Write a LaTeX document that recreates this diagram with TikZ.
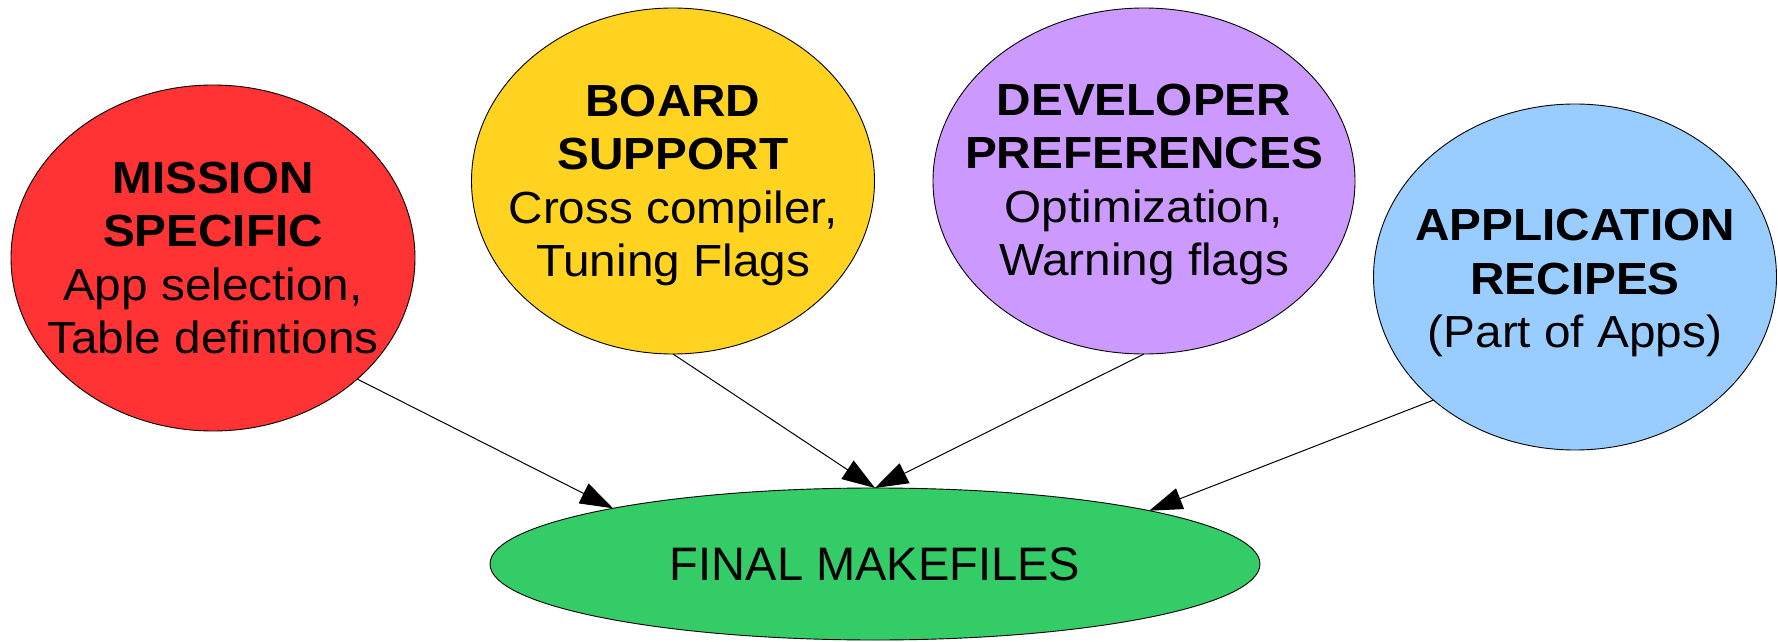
\documentclass[tikz,border=0pt]{standalone}
\usepackage{fontspec}
\setmainfont{Liberation Sans}
\newfontfamily\bubblefont{Liberation Sans}[FakeStretch=1.06]
\usetikzlibrary{shapes.geometric,arrows.meta}

\definecolor{missionred}{HTML}{FF3333}
\definecolor{boardyellow}{HTML}{FFD320}
\definecolor{devpurple}{HTML}{CC99FF}
\definecolor{appblue}{HTML}{99CCFF}
\definecolor{finalgreen}{HTML}{33CC66}

\tikzset{
  bubble/.style={ellipse, draw=black, line width=0.9pt, inner sep=0pt, outer sep=0pt},
  bubbletext/.style={anchor=north, align=center, inner sep=0pt,
    font=\bubblefont\fontsize{45}{53.5}\selectfont},
  feed/.style={line width=1pt, -{Triangle[length=33pt,width=22pt]}}
}

\begin{document}
\begin{tikzpicture}[x=1pt,y=1pt]
\useasboundingbox (0,0) rectangle (1778,641);

% source bubbles
\node[bubble, fill=missionred,  minimum width=404pt, minimum height=346pt] (mission) at (213,383) {};
\node[bubble, fill=boardyellow, minimum width=403pt, minimum height=346pt] (board)   at (673,460) {};
\node[bubble, fill=devpurple,   minimum width=422pt, minimum height=346pt] (dev)     at (1144,460) {};
\node[bubble, fill=appblue,     minimum width=403pt, minimum height=346pt] (app)     at (1575,364) {};

% bubble captions
\node[bubbletext] (mission-t) at (213,479.5) {\textbf{MISSION}\\\textbf{SPECIFIC}\\App selection,\\Table defintions};
\node[bubbletext] (board-t)   at (673,556.5) {\textbf{BOARD}\\\textbf{SUPPORT}\\Cross compiler,\\Tuning Flags};
\node[bubbletext] (dev-t)     at (1144,557.5) {\textbf{DEVELOPER}\\\textbf{PREFERENCES}\\Optimization,\\Warning flags};
\node[bubbletext] (app-t)     at (1575,432) {\textbf{APPLICATION}\\\textbf{RECIPES}\\(Part of Apps)};

% result
\node[bubble, fill=finalgreen, minimum width=770pt, minimum height=152pt,
      font=\fontsize{47}{56}\selectfont] (final) at (875,77) {FINAL MAKEFILES};

% connectors
\draw[feed] (mission.-40.5) -- (final.168.85);
\draw[feed] (board.south) -- (final.north);
\draw[feed] (dev.south) -- (final.north);
\draw[feed] (app.-139.5) -- (final.11.15);
\end{tikzpicture}
\end{document}
